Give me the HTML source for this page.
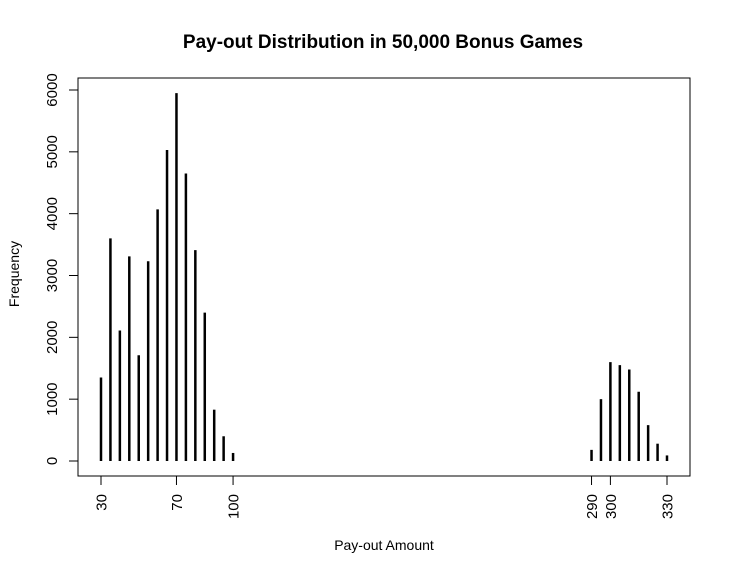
<!DOCTYPE html>
<html><head><meta charset="utf-8"><style>body{margin:0;background:#fff}svg{font-family:"Liberation Sans",Arial,sans-serif}</style></head>
<body>
<svg id="chart" width="731" height="574" viewBox="0 0 731 574">
<rect width="731" height="574" fill="#fff"/>
<text x="383" y="48" text-anchor="middle" font-size="19" font-weight="bold">Pay-out Distribution in 50,000 Bonus Games</text>
<rect x="78" y="78" width="612" height="398" fill="none" stroke="#000"/>
<text x="384" y="550" text-anchor="middle" font-size="14">Pay-out Amount</text>
<text transform="translate(19,274) rotate(-90)" text-anchor="middle" font-size="14">Frequency</text>
<g id="bars"></g><g id="axes"></g>
</svg>
<script>
const payouts=[30,35,40,45,50,55,60,65,70,75,80,85,90,95,100,290,295,300,305,310,315,320,325,330];
const freqs=[1350,3600,2110,3310,1710,3230,4070,5030,5950,4650,3410,2400,830,400,130,180,1000,1600,1550,1480,1120,580,280,90];
const xTicks=[30,70,100,290,300,330];
const yTicks=[0,1000,2000,3000,4000,5000,6000];
const NS="http://www.w3.org/2000/svg";
function xs(v){return 101+(v-30)*(566/300);}
function ys(v){return 461-v*(371/6000);}
function mk(t,a){const e=document.createElementNS(NS,t);for(const k in a)e.setAttribute(k,a[k]);return e;}
const bars=document.getElementById('bars'),axes=document.getElementById('axes');
payouts.forEach((p,i)=>{const l=mk('line',{x1:xs(p),x2:xs(p),y1:ys(0),y2:ys(freqs[i]),stroke:'#000','stroke-width':2.5});


bars.appendChild(l);});
xTicks.forEach(t=>{const l=mk('line',{x1:xs(t),x2:xs(t),y1:476,y2:485,stroke:'#000'});


axes.appendChild(l);
const tx=mk('text',{transform:`translate(${xs(t)+5.5},494) rotate(-90)`,'text-anchor':'end','font-size':15});tx.textContent=t;


axes.appendChild(tx);});
yTicks.forEach(t=>{const l=mk('line',{x1:69,x2:78,y1:ys(t),y2:ys(t),stroke:'#000'});


axes.appendChild(l);
const tx=mk('text',{transform:`translate(57,${ys(t)}) rotate(-90)`,'text-anchor':'middle','font-size':15});tx.textContent=t;


axes.appendChild(tx);});
</script>
</body></html>
